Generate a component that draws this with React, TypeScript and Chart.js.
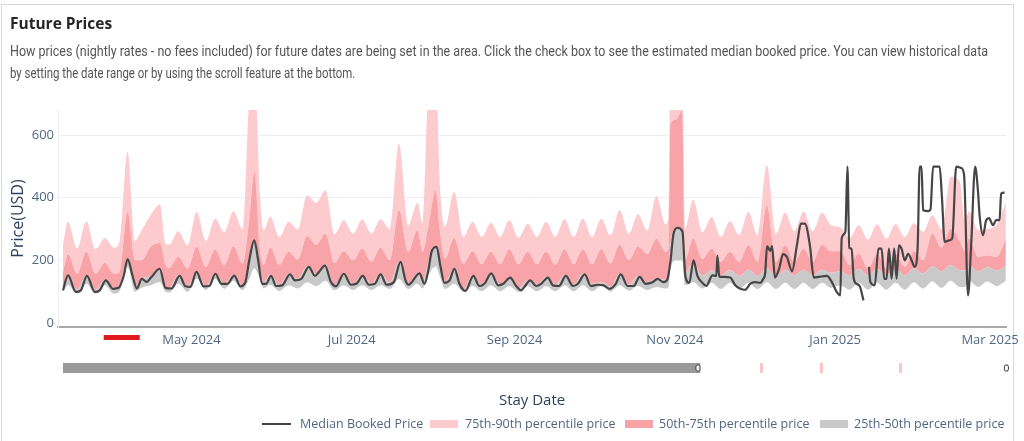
import React, { useEffect, useRef } from 'react';
import { Chart, registerables } from 'chart.js';

Chart.register(...registerables);

const FONT = '"Open Sans", Verdana, Arial, sans-serif';
const TICK_COLOR = '#506784';
const TITLE_COLOR = '#2a3f5f';

// x values are day numbers counted from 2024-03-01 (day 0)
const xTickDays = [61, 122, 184, 245, 306, 365];
const xTickLabels = ['May 2024', 'Jul 2024', 'Sep 2024', 'Nov 2024', 'Jan 2025', 'Mar 2025'];
const yTickValues = [0, 200, 400, 600];

// percentile bands (shared day grid)
const bandDays = [
  12, 14, 17.5, 21, 24.5, 28, 31.5, 33.5, 36.7, 39.5,
  42, 45.5, 49, 51, 52.5, 56, 59.5, 63, 66.5, 70,
  73.5, 77, 80.5, 83, 85, 87, 88.5, 91, 94.5, 98,
  101.5, 105, 108.5, 112, 115.5, 119, 122.5, 126, 129.5, 133,
  136.5, 140, 143.5, 147, 149, 151, 154, 155.5, 157.5, 161,
  164.5, 168, 171.5, 175, 178.5, 182, 185.5, 189, 192.5, 196,
  199.5, 203, 206.5, 210, 213.5, 217, 220.5, 224, 227.5, 231,
  234.5, 238, 241.5, 242.6, 243.3, 245.5, 247.8, 248.8, 252, 255.5,
  259, 262.5, 266, 269.5, 273, 276.5, 280, 283.5, 287, 290.5,
  294, 297.5, 301, 304.5, 308, 311.5, 315, 318.5, 322, 325.5,
  329, 332.5, 336, 339.5, 343, 346.5, 350, 353.5, 355.3, 357,
  360.5, 364, 367.5, 371,
];
const p90 = [
  242, 323, 238, 325, 235, 271, 240, 256, 547, 262,
  295, 345, 378, 254, 250, 293, 248, 354, 262, 333,
  290, 357, 300, 720, 820, 420, 296, 339, 275, 323,
  299, 408, 384, 424, 283, 328, 285, 330, 285, 331,
  300, 573, 312, 383, 317, 720, 820, 450, 307, 418,
  275, 323, 275, 320, 275, 328, 272, 317, 275, 323,
  275, 331, 275, 333, 275, 333, 280, 361, 285, 347,
  295, 405, 315, 340, 900, 900, 900, 300, 393, 290,
  338, 275, 325, 280, 354, 280, 504, 285, 353, 293,
  355, 293, 352, 312, 305, 272, 312, 266, 315, 269,
  315, 275, 318, 291, 344, 300, 466, 450, 330, 355,
  296, 300, 315, 385,
];
const p75 = [
  157, 219, 157, 227, 157, 191, 157, 160, 355, 200,
  200, 243, 255, 187, 175, 211, 173, 243, 179, 234,
  184, 245, 189, 330, 481, 240, 185, 241, 185, 227,
  202, 278, 250, 285, 192, 229, 200, 237, 195, 240,
  200, 360, 227, 296, 227, 300, 424, 300, 205, 271,
  189, 229, 187, 227, 187, 235, 187, 227, 187, 227,
  186, 235, 187, 235, 187, 235, 190, 250, 200, 243,
  220, 269, 227, 235, 635, 650, 678, 200, 269, 205,
  237, 195, 227, 195, 248, 195, 376, 195, 248, 195,
  237, 195, 250, 229, 230, 185, 222, 175, 220, 175,
  220, 180, 229, 200, 285, 240, 300, 260, 230, 269,
  211, 215, 211, 269,
];
const p50 = [
  108, 152, 106, 152, 106, 138, 112, 118, 205, 115,
  141, 150, 173, 115, 110, 152, 117, 163, 117, 157,
  125, 152, 117, 200, 264, 180, 130, 155, 122, 157,
  140, 180, 155, 185, 122, 157, 125, 152, 125, 157,
  128, 195, 125, 158, 128, 190, 243, 190, 131, 173,
  106, 152, 122, 160, 122, 147, 110, 138, 122, 147,
  122, 152, 122, 157, 125, 130, 115, 157, 122, 150,
  130, 143, 138, 150, 250, 300, 295, 160, 190, 150,
  168, 150, 168, 150, 170, 150, 175, 150, 170, 152,
  170, 152, 170, 160, 165, 150, 172, 152, 172, 152,
  172, 152, 175, 158, 180, 165, 185, 168, 168, 182,
  165, 178, 168, 182,
];
const p25 = [
  99, 120, 93, 125, 93, 120, 93, 100, 179, 99,
  112, 120, 131, 100, 97, 125, 99, 141, 105, 141,
  109, 135, 105, 140, 175, 140, 110, 122, 102, 120,
  110, 130, 118, 135, 104, 120, 105, 120, 105, 120,
  108, 140, 108, 125, 110, 150, 180, 150, 108, 125,
  99, 118, 101, 120, 101, 118, 99, 117, 101, 118,
  101, 120, 101, 120, 101, 118, 100, 120, 103, 118,
  105, 115, 110, 115, 170, 200, 200, 120, 130, 110,
  128, 108, 128, 108, 128, 108, 130, 108, 128, 108,
  128, 108, 128, 112, 120, 106, 128, 106, 128, 106,
  128, 106, 130, 110, 132, 112, 135, 115, 115, 135,
  115, 132, 118, 135,
];

// median booked price (null = no data)
const medianDays = [
  12.1, 14.0, 17.0, 18.9, 21.2, 24.2, 26.1, 28.4, 31.1, 33.3,
  35.2, 36.7, 38.6, 40.2, 42.1, 43.9, 45.8, 48.9, 51.1, 53.4,
  56.5, 58.7, 60.6, 62.9, 65.6, 67.8, 70.1, 72.4, 74.7, 77.3,
  79.6, 81.5, 83.0, 84.9, 86.4, 87.9, 89.4, 91.3, 93.2, 95.5,
  98.5, 100.4, 102.7, 105.7, 108.0, 109.5, 111.8, 114.1, 116.0, 119.0,
  121.7, 123.9, 126.2, 128.5, 130.8, 133.0, 135.3, 138.0, 140.6, 142.5,
  143.6, 147.8, 149.7, 151.2, 152.4, 154.3, 155.8, 157.3, 159.2, 161.1,
  163.0, 165.3, 168.3, 170.6, 172.5, 175.1, 177.8, 179.7, 182.3, 184.6,
  186.5, 188.0, 189.9, 192.2, 194.1, 196.7, 198.6, 200.9, 203.5, 206.2,
  208.1, 210.7, 213.0, 215.7, 217.9, 220.2, 222.5, 224.4, 227.0, 229.3,
  231.6, 233.9, 236.5, 238.4, 240.7, 242.2, 243.3, 244.5, 246.0, 247.9,
  249.0, 250.5, 252.1, 253.6, 255.5, 257.0, 259.3, 260.8, 261.2, 261.9,
  263.8, 266.1, 268.0, 269.9, 271.8, 273.7, 275.6, 277.5, 278.6, 279.4,
  280.1, 281.3, 282.0, 283.1, 284.7, 286.2, 287.7, 289.6, 291.5, 293.0,
  294.5, 296.4, 297.9, 299.8, 302.9, 304.4, 305.5, 306.6, 308.0, 308.5,
  309.9, 310.7, 311.4, 312.3, 313.1, 314.2, 315.5, 316.8, 317.6, 318.9,
  319.4, 321.1, 322.5, 323.7, 324.7, 325.6, 326.5, 327.5, 328.5, 329.4,
  330.3, 331.3, 332.5, 333.8, 335.1, 336.3, 337.4, 338.2, 338.9, 339.5,
  341.4, 342.3, 343.3, 345.8, 346.7, 347.7, 349.6, 350.6, 352.1, 354.0,
  355.1, 356.6, 357.8, 359.3, 360.4, 361.0, 362.3, 363.5, 364.6, 366.1,
  367.3, 368.6, 369.2, 370.5,
];
const medianPrice = [
  104, 152, 99, 104, 150, 99, 104, 136, 109, 112,
  150, 204, 150, 110, 141, 131, 147, 173, 112, 110,
  150, 117, 115, 163, 117, 118, 157, 125, 125, 151,
  117, 130, 200, 264, 200, 125, 125, 150, 118, 120,
  155, 136, 140, 179, 150, 162, 183, 131, 117, 157,
  122, 126, 150, 122, 125, 155, 122, 130, 195, 135,
  122, 158, 125, 170, 227, 243, 180, 128, 135, 173,
  125, 102, 150, 118, 125, 158, 120, 125, 145, 118,
  104, 118, 136, 118, 125, 145, 120, 118, 150, 118,
  125, 155, 118, 122, 120, 109, 125, 155, 118, 118,
  147, 125, 130, 141, 130, 140, 195, 285, 304, 292,
  150, 128, 200, 150, 128, 118, 152, 150, 215, 148,
  147, 145, 120, 109, 106, 125, 130, 128, 140, 160,
  245, 230, 245, 145, 173, 220, 210, 165, 250, 317,
  317, 248, 145, 147, 150, 136, 118, 99, 88, 270,
  291, 499, 240, 237, 141, 125, 115, 72, null, 179,
  131, 120, 237, 237, 141, 141, 237, 141, 237, 141,
  248, 237, 200, 221, 200, 179, 237, 499, 499, 360,
  357, 362, 499, 499, 397, 259, 264, 270, 499, 495,
  472, 88, 250, 499, 420, 344, 280, 328, 335, 312,
  328, 328, 413, 416,
];

// range-slider and marker decorations (in days)
const sliderWindowDays = [12.1, 254.7];
const sliderHandleDays = [253.8, 371.2];
const sliderMarkDays = [277.8, 300.6, 330.7];
const redMarkerDays = [27.6, 41.3];

const COLORS = {
  p90: '#fdcacd',
  p75: '#f8a3a8',
  p50: '#c9c9c9',
  median: '#454545',
};

const decorationsPlugin = {
  id: 'decorations',
  afterDraw(chart: any) {
    const ctx = chart.ctx;
    const xs = chart.scales.x;
    const px = (d: number) => xs.getPixelForValue(d);
    ctx.save();
    ctx.fillStyle = '#e0191e';
    ctx.fillRect(px(redMarkerDays[0]), 335, px(redMarkerDays[1]) - px(redMarkerDays[0]), 5);
    ctx.fillStyle = '#9a9a9a';
    ctx.fillRect(px(sliderWindowDays[0]), 363, px(sliderWindowDays[1]) - px(sliderWindowDays[0]), 10);
    ctx.fillStyle = '#fcc6c9';
    sliderMarkDays.forEach((d) => ctx.fillRect(px(d) - 1, 363, 3, 10));
    sliderHandleDays.forEach((d) => {
      const x = px(d);
      ctx.beginPath();
      if (ctx.roundRect) ctx.roundRect(x - 2, 365, 4, 6, 1.5);
      else ctx.rect(x - 2, 365, 4, 6);
      ctx.fillStyle = '#ffffff';
      ctx.fill();
      ctx.lineWidth = 1;
      ctx.strokeStyle = '#333333';
      ctx.stroke();
    });
    ctx.restore();
  },
};

const legendItems = [
  { label: 'Median Booked Price', kind: 'line', color: COLORS.median, swatchX: 262, textX: 300 },
  { label: '75th-90th percentile price', kind: 'box', color: COLORS.p90, swatchX: 430, textX: 465 },
  { label: '50th-75th percentile price', kind: 'box', color: COLORS.p75, swatchX: 625, textX: 659 },
  { label: '25th-50th percentile price', kind: 'box', color: COLORS.p50, swatchX: 820, textX: 854 },
];

const descLines = [
  { text: 'How prices (nightly rates - no fees included) for future dates are being set in the area. Click the check box to see the estimated median booked price. You can view historical data', width: 978, top: 42 },
  { text: 'by setting the date range or by using the scroll feature at the bottom.', width: 345, top: 64 },
];

export default function App() {
  const canvasRef = useRef<HTMLCanvasElement | null>(null);
  const descRefs = useRef<(HTMLDivElement | null)[]>([]);

  useEffect(() => {
    descRefs.current.forEach((el, i) => {
      if (!el) return;
      const w = el.scrollWidth;
      if (w > 0) el.style.transform = `scaleX(${descLines[i].width / w})`;
    });
  }, []);

  useEffect(() => {
    if (!canvasRef.current) return;
    const band = (vals: number[]) => bandDays.map((d, i) => ({ x: d, y: vals[i] }));
    const common = {
      pointRadius: 0,
      pointHoverRadius: 0,
      borderWidth: 0,
      borderColor: 'rgba(0,0,0,0)',
      cubicInterpolationMode: 'monotone' as const,
    };
    const chart = new Chart(canvasRef.current, {
      type: 'line',
      data: {
        datasets: [
          {
            label: 'Median Booked Price',
            data: medianDays.map((d, i) => ({ x: d, y: medianPrice[i] })),
            borderColor: COLORS.median,
            borderWidth: 2.2,
            pointRadius: 0,
            fill: false,
            spanGaps: false,
            cubicInterpolationMode: 'monotone',
          },
          { label: '25th percentile', data: band(p25), fill: false, ...common },
          { label: '25th-50th percentile price', data: band(p50), fill: '-1', backgroundColor: COLORS.p50, ...common },
          { label: '50th-75th percentile price', data: band(p75), fill: '-1', backgroundColor: COLORS.p75, ...common },
          { label: '75th-90th percentile price', data: band(p90), fill: '-1', backgroundColor: COLORS.p90, ...common },
        ],
      },
      options: {
        animation: false,
        responsive: false,
        devicePixelRatio: 1,
        layout: { padding: { top: 110, right: 14, bottom: 0, left: 0 } },
        plugins: { legend: { display: false }, tooltip: { enabled: false } },
        scales: {
          x: {
            type: 'linear',
            min: 10.2,
            max: 371.1,
            afterBuildTicks: (s: any) => {
              s.ticks = xTickDays.map((v) => ({ value: v }));
            },
            afterFit: (s: any) => {
              s.height = 114;
            },
            ticks: {
              autoSkip: false,
              maxRotation: 0,
              padding: 5,
              color: TICK_COLOR,
              font: { family: FONT, size: 13 },
              callback: (_v: any, i: number) => xTickLabels[i],
            },
            grid: { display: false, drawTicks: false },
            border: { display: true, color: '#a9a9a9', width: 2 },
            title: {
              display: true,
              text: 'Stay Date',
              color: TITLE_COLOR,
              font: { family: FONT, size: 15 },
              padding: { top: 0, bottom: 31 },
            },
          },
          y: {
            min: -13,
            max: 680,
            afterBuildTicks: (s: any) => {
              s.ticks = yTickValues.map((v) => ({ value: v }));
            },
            afterFit: (s: any) => {
              s.width = 58;
            },
            ticks: { padding: 4, color: TICK_COLOR, font: { family: FONT, size: 13 } },
            grid: {
              drawTicks: false,
              color: (c: any) => (c.tick && c.tick.value === 0 ? 'rgba(0,0,0,0)' : '#eeeeee'),
            },
            border: { display: true, color: '#eeeeee', width: 1 },
            title: {
              display: true,
              text: 'Price(USD)',
              color: TITLE_COLOR,
              font: { family: FONT, size: 16 },
              padding: { top: 9, bottom: 0 },
            },
          },
        },
      },
      plugins: [decorationsPlugin],
    } as any);
    return () => chart.destroy();
  }, []);

  return (
    <div style={{ position: 'absolute', left: 0, top: 0, width: 1024, height: 441, overflow: 'hidden', background: '#ffffff' }}>
      <div style={{ position: 'absolute', left: 1, top: 4, width: 1013, height: 460, border: '1px solid #d8d8d8', boxSizing: 'border-box' }} />
      <canvas ref={canvasRef} width={1024} height={441} style={{ position: 'absolute', left: 0, top: 0, width: 1024, height: 441 }} />
      <div style={{ position: 'absolute', left: 10, top: 12, fontFamily: FONT, fontWeight: 700, fontSize: 15.5, color: '#262626', whiteSpace: 'nowrap' }}>
        Future Prices
      </div>
      {descLines.map((l, i) => (
        <div
          key={i}
          ref={(el) => {
            descRefs.current[i] = el;
          }}
          style={{
            position: 'absolute',
            left: 10,
            top: l.top,
            fontFamily: 'Roboto, "Noto Sans", sans-serif',
            fontSize: 14.5,
            lineHeight: '20px',
            color: '#555555',
            whiteSpace: 'nowrap',
            transformOrigin: '0 0',
          }}
        >
          {l.text}
        </div>
      ))}
      {legendItems.map((it) => (
        <React.Fragment key={it.label}>
          <div
            style={
              it.kind === 'line'
                ? { position: 'absolute', left: it.swatchX, top: 423, width: 29, height: 2, background: it.color }
                : { position: 'absolute', left: it.swatchX, top: 420, width: 28, height: 8, background: it.color }
            }
          />
          <div style={{ position: 'absolute', left: it.textX, top: 415, fontFamily: FONT, fontSize: 12.5, lineHeight: '18px', color: TICK_COLOR, whiteSpace: 'nowrap' }}>
            {it.label}
          </div>
        </React.Fragment>
      ))}
    </div>
  );
}
